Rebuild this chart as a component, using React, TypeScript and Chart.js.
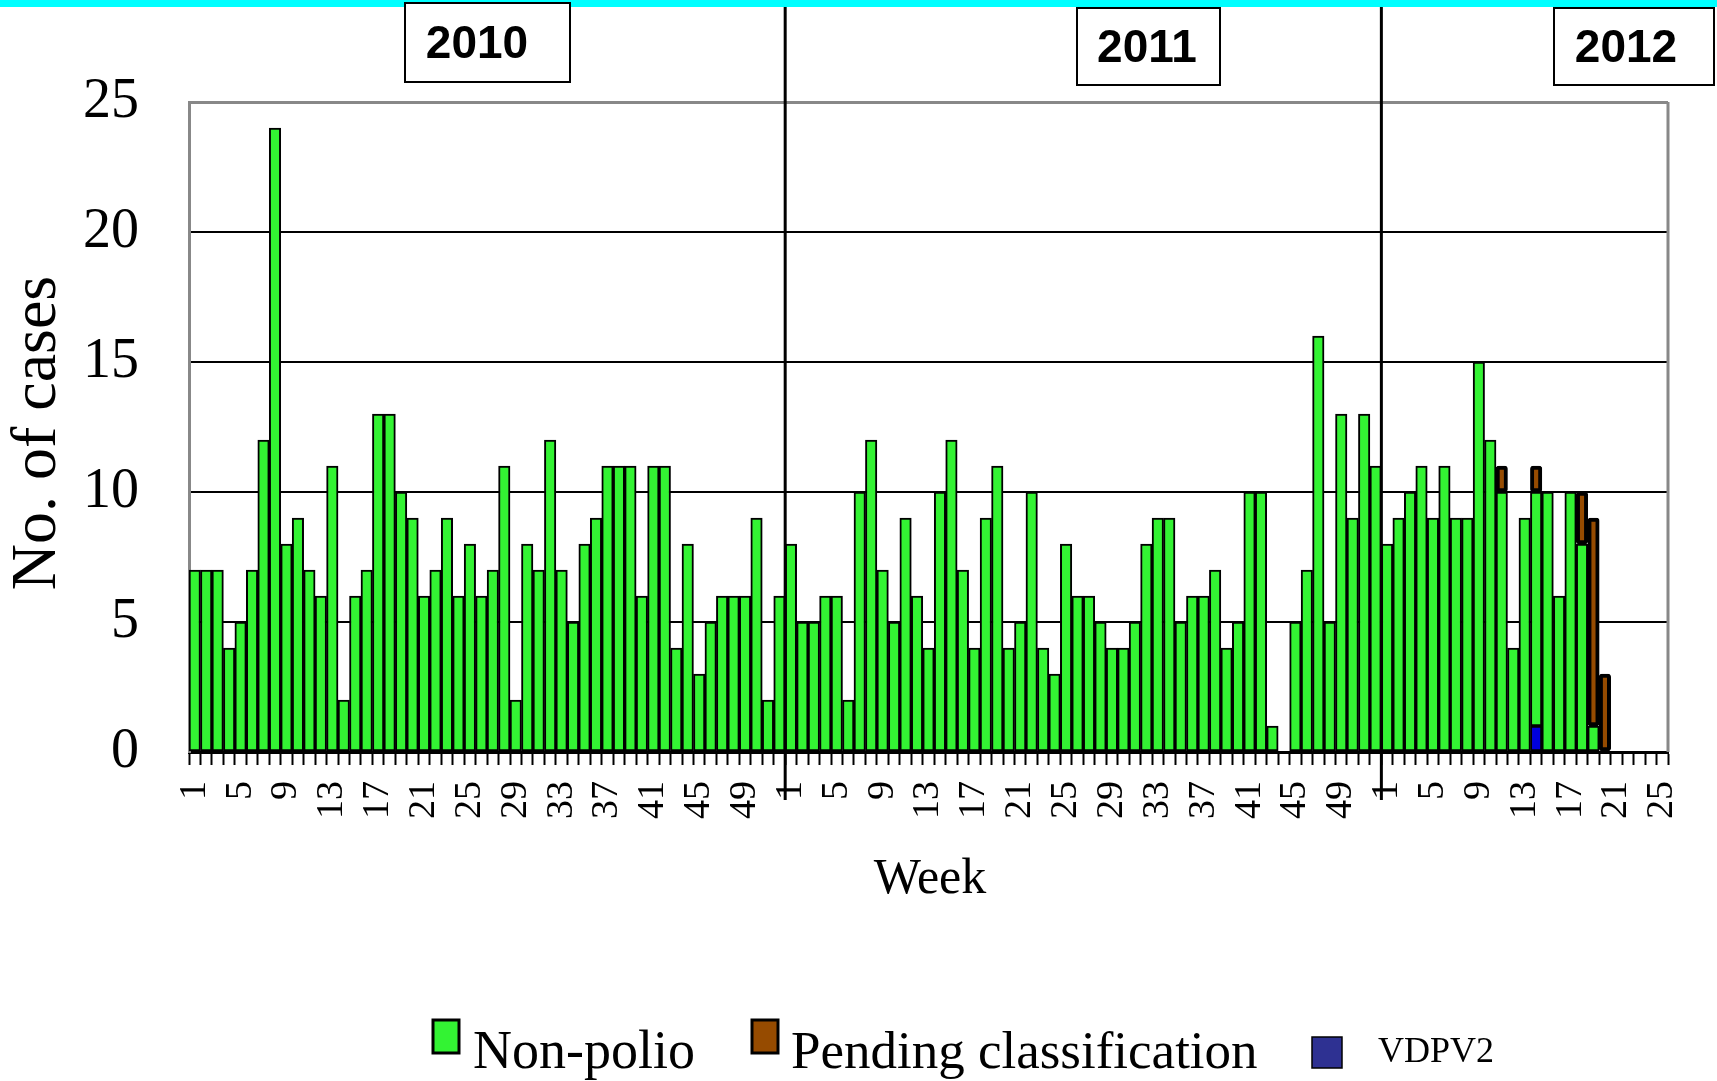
import React, { useEffect, useRef } from 'react';
import { Chart, registerables } from 'chart.js';

Chart.register(...registerables);

const YEARS = ['2010', '2011', '2012'];
const WEEKS_IN_YEAR = [52, 52, 25];
const SHOWN_WEEKS = [1, 5, 9, 13, 17, 21, 25, 29, 33, 37, 41, 45, 49];
const Y_TICKS = [0, 5, 10, 15, 20, 25];

const NON_POLIO_2010 = [7, 7, 7, 4, 5, 7, 12, 24, 8, 9, 7, 6, 11, 2, 6, 7, 13, 13, 10, 9, 6, 7, 9, 6, 8, 6, 7, 11, 2, 8, 7, 12, 7, 5, 8, 9, 11, 11, 11, 6, 11, 11, 4, 8, 3, 5, 6, 6, 6, 9, 2, 6];
const NON_POLIO_2011 = [8, 5, 5, 6, 6, 2, 10, 12, 7, 5, 9, 6, 4, 10, 12, 7, 4, 9, 11, 4, 5, 10, 4, 3, 8, 6, 6, 5, 4, 4, 5, 8, 9, 9, 5, 6, 6, 7, 4, 5, 10, 10, 1, null, 5, 7, 16, 5, 13, 9, 13, 11];
const NON_POLIO_2012 = [8, 9, 10, 11, 9, 11, 9, 9, 15, 12, 10, 4, 9, 9, 10, 6, 10, 8, 1, null, null, null, null, null, null];
const PENDING_2012 = [null, null, null, null, null, null, null, null, null, null, 1, null, null, 1, null, null, null, 2, 8, 3, null, null, null, null, null];
const VDPV2_2012 = [null, null, null, null, null, null, null, null, null, null, null, null, null, 1, null, null, null, null, null, null, null, null, null, null, null];

const SERIES_NAMES = ['Non-polio', 'Pending classification', 'VDPV2'];
const GREEN = '#33f333';
const BROWN = '#964b00';
const BLUE_BAR = '#0000dd';
const NAVY = '#2e3192';

const WEEK_NUMBERS: number[] = [];
const CATEGORIES: string[] = [];
YEARS.forEach((y, i) => {
  for (let w = 1; w <= WEEKS_IN_YEAR[i]; w++) {
    WEEK_NUMBERS.push(w);
    CATEGORIES.push(`${y}-W${w}`);
  }
});

const emptyYear = (n: number) => new Array(n).fill(null);
const nonPolio = [...NON_POLIO_2010, ...NON_POLIO_2011, ...NON_POLIO_2012];
const pending = [...emptyYear(WEEKS_IN_YEAR[0]), ...emptyYear(WEEKS_IN_YEAR[1]), ...PENDING_2012];
const vdpv2 = [...emptyYear(WEEKS_IN_YEAR[0]), ...emptyYear(WEEKS_IN_YEAR[1]), ...VDPV2_2012];

const SERIF = "'Liberation Serif', 'Times New Roman', serif";
const SANS = "'Liberation Sans', Arial, sans-serif";

const decorPlugin = {
  id: 'decor',
  beforeDraw(chart: any) {
    const ctx = chart.ctx;
    ctx.save();
    ctx.fillStyle = '#ffffff';
    ctx.fillRect(0, 0, chart.width, chart.height);
    ctx.restore();
  },
  afterDraw(chart: any) {
    const ctx = chart.ctx;
    const area = chart.chartArea;
    const xs = chart.scales.x;
    ctx.save();
    // cyan band
    ctx.fillStyle = '#00ffff';
    ctx.fillRect(0, 0, chart.width, 7);

    // right plot border
    ctx.strokeStyle = '#888888';
    ctx.lineWidth = 3;
    ctx.beginPath();
    ctx.moveTo(area.right, area.top);
    ctx.lineTo(area.right, area.bottom);
    ctx.stroke();

    // year dividers
    let idx = 0;
    const boundaries: number[] = [];
    for (let i = 0; i < YEARS.length - 1; i++) {
      idx += WEEKS_IN_YEAR[i];
      boundaries.push((xs.getPixelForValue(idx - 1) + xs.getPixelForValue(idx)) / 2);
    }
    ctx.strokeStyle = '#000000';
    ctx.lineWidth = 3;
    boundaries.forEach((bx) => {
      ctx.beginPath();
      ctx.moveTo(bx, 7);
      ctx.lineTo(bx, 800);
      ctx.stroke();
    });

    // year boxes
    const boxes = [
      { x: 405, y: 3, w: 165, h: 79, tx: 477, ty: 45 },
      { x: 1077, y: 8, w: 143, h: 77, tx: 1147, ty: 49 },
      { x: 1554, y: 8, w: 160, h: 77, tx: 1626, ty: 49 },
    ];
    boxes.forEach((b, i) => {
      ctx.fillStyle = '#ffffff';
      ctx.fillRect(b.x, b.y, b.w, b.h);
      ctx.strokeStyle = '#000000';
      ctx.lineWidth = 2;
      ctx.strokeRect(b.x, b.y, b.w, b.h);
      ctx.fillStyle = '#000000';
      ctx.font = `bold 46px ${SANS}`;
      ctx.textAlign = 'center';
      ctx.textBaseline = 'middle';
      ctx.fillText(YEARS[i], b.tx, b.ty);
    });

    // axis titles
    ctx.fillStyle = '#000000';
    ctx.font = `64px ${SERIF}`;
    ctx.textAlign = 'center';
    ctx.textBaseline = 'middle';
    ctx.save();
    ctx.translate(38, 433);
    ctx.rotate(-Math.PI / 2);
    ctx.fillText('No. of cases', 0, 0);
    ctx.restore();

    ctx.font = `50px ${SERIF}`;
    ctx.fillText('Week', 930, 880);

    // legend
    ctx.textAlign = 'left';
    ctx.textBaseline = 'alphabetic';
    const drawBox = (x: number, y: number, w: number, h: number, fill: string, lw: number) => {
      ctx.fillStyle = fill;
      ctx.fillRect(x, y, w, h);
      ctx.strokeStyle = '#000000';
      ctx.lineWidth = lw;
      ctx.strokeRect(x, y, w, h);
    };
    drawBox(433, 1020, 26, 33, GREEN, 3);
    ctx.fillStyle = '#000000';
    ctx.font = `54px ${SERIF}`;
    ctx.fillText(SERIES_NAMES[0], 473, 1068);

    drawBox(752, 1020, 26, 33, BROWN, 3);
    ctx.fillStyle = '#000000';
    ctx.font = `53px ${SERIF}`;
    ctx.fillText(SERIES_NAMES[1], 791, 1068);

    drawBox(1312, 1037, 30, 31, NAVY, 1.5);
    ctx.fillStyle = '#000000';
    ctx.font = `36px ${SERIF}`;
    ctx.fillText(SERIES_NAMES[2], 1378, 1062);

    ctx.restore();
  },
};

export default function App() {
  const ref = useRef<HTMLCanvasElement | null>(null);

  useEffect(() => {
    if (!ref.current) return;
    const chart = new Chart(ref.current, {
      type: 'bar',
      data: {
        labels: CATEGORIES,
        datasets: [
          {
            label: SERIES_NAMES[2],
            data: vdpv2,
            backgroundColor: BLUE_BAR,
            borderColor: '#000000',
            borderWidth: 2,
            borderSkipped: false,
          },
          {
            label: SERIES_NAMES[0],
            data: nonPolio,
            backgroundColor: GREEN,
            borderColor: '#000000',
            borderWidth: 2,
            borderSkipped: false,
          },
          {
            label: SERIES_NAMES[1],
            data: pending,
            backgroundColor: BROWN,
            borderColor: '#000000',
            borderWidth: 4,
            borderSkipped: false,
            borderRadius: 3,
          },
        ] as any,
      },
      options: {
        animation: false,
        responsive: false,
        maintainAspectRatio: false,
        devicePixelRatio: 1,
        layout: { padding: { top: 102, right: 49, left: 0, bottom: 0 } },
        datasets: { bar: { barPercentage: 1, categoryPercentage: 1 } },
        plugins: {
          legend: { display: false },
          title: { display: false },
          tooltip: { enabled: false },
        },
        scales: {
          x: {
            stacked: true,
            offset: true,
            afterFit: (s: any) => {
              s.height = 329;
              s.paddingLeft = 0;
              s.paddingRight = 0;
            },
            border: { display: true, color: '#000000', width: 3 },
            grid: {
              display: true,
              offset: true,
              drawOnChartArea: false,
              drawTicks: true,
              tickLength: 13,
              tickColor: '#000000',
              tickWidth: 2,
              color: '#000000',
            },
            ticks: {
              autoSkip: false,
              maxRotation: 90,
              minRotation: 90,
              padding: 16,
              color: '#000000',
              font: { family: SERIF, size: 38 },
              callback: (_v: any, i: number) => {
                const w = WEEK_NUMBERS[i];
                return SHOWN_WEEKS.includes(w) ? String(w) : '';
              },
            },
          },
          y: {
            stacked: true,
            min: 0,
            max: 25,
            afterFit: (s: any) => {
              s.width = 189;
            },
            afterBuildTicks: (s: any) => {
              s.ticks = Y_TICKS.map((v) => ({ value: v }));
            },
            border: { display: true, color: '#888888', width: 3 },
            grid: {
              drawTicks: false,
              color: (c: any) => (c.tick && c.tick.value === 25 ? '#888888' : '#000000'),
              lineWidth: (c: any) => (c.tick && c.tick.value === 25 ? 3 : 2),
            },
            ticks: {
              padding: 50,
              color: '#000000',
              font: { family: SERIF, size: 56 },
            },
          },
        },
      } as any,
      plugins: [decorPlugin],
    });
    return () => chart.destroy();
  }, []);

  return (
    <div style={{ position: 'fixed', left: 0, top: 0, width: 1717, height: 1081, background: '#ffffff' }}>
      <canvas ref={ref} width={1717} height={1081} style={{ width: 1717, height: 1081, display: 'block' }} />
    </div>
  );
}
